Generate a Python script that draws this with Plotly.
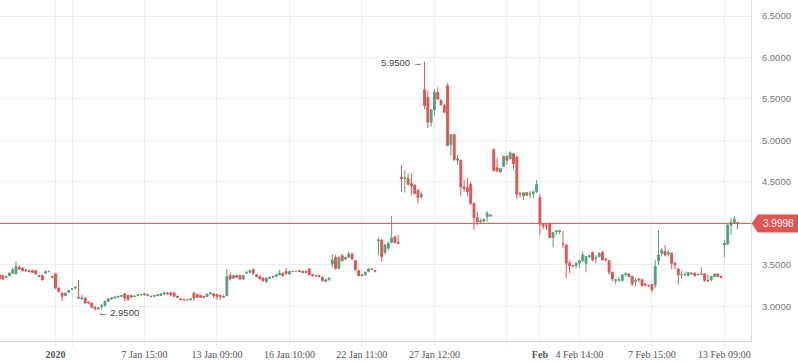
import plotly.graph_objects as go

# ---- data ----
opens = [3.38,3.37,3.35,3.37,3.40,3.39,3.47,3.46,3.44,3.43,3.43,3.43,3.37,3.37,3.40,3.42,3.36,3.39,3.22,3.16,
         3.13,3.17,3.21,3.22,3.11,3.09,3.10,3.05,3.04,2.99,2.97,3.00,3.01,3.06,3.09,3.10,3.11,3.12,3.15,3.13,
         3.11,3.12,3.13,3.14,3.15,3.13,3.12,3.12,3.13,3.13,3.15,3.16,3.16,3.16,3.12,3.09,3.08,3.08,3.08,3.16,
         3.14,3.13,3.12,3.12,3.15,3.15,3.14,3.13,3.11,3.13,3.37,3.34,3.37,3.37,3.33,3.40,3.41,3.44,3.38,3.36,
         3.34,3.30,3.34,3.35,3.36,3.38,3.40,3.42,3.39,3.42,3.42,3.43,3.42,3.42,3.45,3.38,3.37,3.37,3.35,3.30,
         3.32,3.51,3.59,3.46,3.61,3.57,3.59,3.63,3.55,3.43,3.37,3.38,3.42,3.45,3.43,3.79,3.80,3.65,3.70,3.77,
         3.84,3.77,4.56,4.54,4.54,4.48,4.46,4.40,4.32,5.61,5.52,5.22,5.37,5.58,5.48,5.42,5.66,4.95,5.07,4.76,
         4.76,4.44,4.43,4.47,4.24,4.07,4.02,4.03,4.08,4.10,4.89,4.67,4.62,4.69,4.81,4.78,4.84,4.80,4.36,4.33,
         4.37,4.35,4.36,4.38,4.31,3.99,3.98,4.00,3.83,3.90,3.90,3.75,3.74,3.52,3.49,3.49,3.52,3.55,3.52,3.60,
         3.65,3.58,3.60,3.65,3.57,3.55,3.41,3.31,3.32,3.31,3.38,3.39,3.36,3.30,3.33,3.32,3.27,3.25,3.26,3.26,
         3.55,3.64,3.66,3.63,3.64,3.52,3.45,3.38,3.38,3.37,3.40,3.40,3.38,3.39,3.39,3.31,3.32,3.36,3.39,3.36,
         3.74,3.75,3.98,4.01,4.01]
highs = [3.39,3.38,3.37,3.41,3.46,3.54,3.50,3.47,3.45,3.44,3.44,3.44,3.38,3.38,3.43,3.43,3.37,3.40,3.23,3.17,
         3.16,3.20,3.22,3.24,3.32,3.14,3.11,3.06,3.05,3.00,2.99,3.03,3.07,3.10,3.11,3.12,3.13,3.14,3.16,3.14,
         3.14,3.13,3.14,3.15,3.16,3.15,3.13,3.13,3.14,3.16,3.17,3.17,3.18,3.17,3.13,3.10,3.09,3.09,3.10,3.17,
         3.15,3.14,3.13,3.15,3.17,3.16,3.15,3.14,3.13,3.45,3.41,3.38,3.38,3.38,3.38,3.42,3.44,3.46,3.39,3.37,
         3.35,3.35,3.35,3.37,3.39,3.44,3.41,3.46,3.43,3.43,3.43,3.44,3.43,3.43,3.46,3.39,3.38,3.38,3.36,3.33,
         3.35,3.63,3.62,3.61,3.63,3.60,3.66,3.65,3.56,3.44,3.39,3.42,3.46,3.46,3.44,3.83,3.81,3.75,3.78,4.09,
         3.85,3.86,4.70,4.64,4.60,4.60,4.47,4.41,4.38,5.95,5.60,5.38,5.62,5.64,5.50,5.44,5.69,5.07,5.08,4.82,
         4.77,4.53,4.55,4.50,4.25,4.14,4.06,4.06,4.15,4.11,4.90,4.78,4.67,4.81,4.82,4.87,4.85,4.81,4.38,4.37,
         4.38,4.39,4.39,4.52,4.35,4.00,4.00,4.01,3.90,3.91,3.92,3.91,3.75,3.55,3.50,3.53,3.56,3.66,3.60,3.62,
         3.66,3.62,3.65,3.67,3.58,3.56,3.42,3.33,3.35,3.39,3.41,3.40,3.37,3.34,3.34,3.33,3.28,3.26,3.27,3.56,
         3.92,3.70,3.74,3.68,3.65,3.53,3.46,3.43,3.41,3.41,3.41,3.41,3.39,3.47,3.40,3.38,3.37,3.39,3.40,3.37,
         3.80,3.99,4.07,4.09,4.02]
lows = [3.32,3.32,3.34,3.36,3.39,3.39,3.44,3.42,3.42,3.41,3.40,3.38,3.35,3.31,3.39,3.41,3.34,3.21,3.17,3.06,
        3.12,3.16,3.20,3.21,3.10,3.08,3.03,3.03,2.98,2.95,2.96,2.96,3.00,3.05,3.08,3.09,3.10,3.11,3.06,3.07,
        3.10,3.11,3.12,3.13,3.13,3.12,3.11,3.11,3.12,3.13,3.14,3.14,3.12,3.11,3.10,3.08,3.07,3.07,3.07,3.07,
        3.10,3.10,3.10,3.11,3.14,3.10,3.08,3.08,3.10,3.12,3.31,3.33,3.34,3.32,3.32,3.39,3.40,3.38,3.36,3.33,
        3.29,3.28,3.33,3.34,3.35,3.37,3.36,3.38,3.38,3.41,3.41,3.41,3.40,3.41,3.38,3.36,3.36,3.35,3.30,3.29,
        3.31,3.47,3.44,3.44,3.54,3.56,3.58,3.56,3.43,3.36,3.36,3.37,3.41,3.44,3.41,3.62,3.54,3.62,3.68,3.76,
        3.76,3.75,4.38,4.37,4.46,4.34,4.35,4.24,4.30,5.38,5.15,5.17,5.30,5.49,5.42,5.33,4.93,4.82,4.75,4.71,
        4.33,4.38,4.33,4.22,3.92,3.98,3.99,4.01,4.02,4.08,4.62,4.62,4.61,4.68,4.71,4.77,4.65,4.30,4.31,4.28,
        4.33,4.30,4.30,4.37,3.86,3.93,3.92,3.82,3.71,3.86,3.87,3.70,3.34,3.40,3.47,3.46,3.46,3.53,3.41,3.58,
        3.54,3.52,3.59,3.55,3.54,3.38,3.30,3.27,3.29,3.30,3.36,3.35,3.24,3.24,3.29,3.24,3.24,3.23,3.17,3.22,
        3.50,3.60,3.60,3.60,3.45,3.45,3.26,3.33,3.36,3.36,3.38,3.36,3.37,3.38,3.30,3.30,3.30,3.35,3.35,3.34,
        3.59,3.74,3.86,3.99,3.93]
closes = [3.33,3.33,3.36,3.40,3.44,3.48,3.45,3.43,3.43,3.42,3.41,3.39,3.36,3.32,3.42,3.42,3.35,3.22,3.18,3.12,
          3.16,3.19,3.21,3.23,3.10,3.10,3.04,3.04,2.99,2.97,2.98,3.01,3.06,3.09,3.10,3.11,3.12,3.13,3.10,3.08,
          3.13,3.12,3.14,3.14,3.14,3.14,3.12,3.13,3.14,3.15,3.16,3.15,3.14,3.12,3.11,3.08,3.08,3.08,3.09,3.10,
          3.11,3.11,3.11,3.15,3.16,3.13,3.12,3.12,3.12,3.36,3.33,3.37,3.35,3.33,3.37,3.41,3.43,3.40,3.36,3.33,
          3.31,3.34,3.35,3.36,3.38,3.40,3.37,3.40,3.42,3.42,3.42,3.42,3.41,3.41,3.38,3.37,3.37,3.36,3.31,3.32,
          3.34,3.56,3.46,3.59,3.55,3.59,3.63,3.57,3.44,3.37,3.38,3.41,3.45,3.445,3.425,3.80,3.60,3.74,3.76,3.82,
          3.77,3.76,4.54,4.545,4.47,4.45,4.36,4.31,4.35,5.42,5.22,5.37,5.58,5.50,5.43,5.34,4.94,5.07,4.77,4.78,
          4.44,4.42,4.38,4.24,4.07,4.02,4.03,4.05,4.12,4.09,4.64,4.63,4.66,4.81,4.76,4.85,4.72,4.35,4.355,4.37,
          4.34,4.355,4.38,4.47,3.99,3.97,3.97,3.83,3.89,3.91,3.91,3.75,3.52,3.49,3.49,3.52,3.55,3.62,3.60,3.61,
          3.56,3.59,3.64,3.56,3.56,3.41,3.33,3.32,3.32,3.38,3.39,3.36,3.27,3.31,3.32,3.25,3.26,3.25,3.20,3.48,
          3.62,3.68,3.62,3.645,3.52,3.50,3.38,3.385,3.385,3.41,3.395,3.37,3.385,3.385,3.31,3.305,3.36,3.39,3.36,3.35,
          3.76,3.98,4.01,4.05,3.9998]

tick_pos = [17, 22, 44, 66, 88, 110, 132, 154, 164, 176, 198, 220]
tick_text = ["<b>2020</b>", "", "7 Jan 15:00", "13 Jan 09:00", "16 Jan 10:00", "22 Jan 11:00",
             "27 Jan 12:00", "", "<b>Feb</b>", "4 Feb 14:00", "7 Feb 15:00", "13 Feb 09:00"]
y_ticks = [3.0, 3.5, 4.0, 4.5, 5.0, 5.5, 6.0, 6.5]

# ---- styles ----
UP = "#53a27c"
DOWN = "#e05451"
GRID = "#e9ecf0"
AXIS = "#d9dde3"
y_range = [2.582, 6.693]
x_range = [0.15, 228.07]

idx = list(range(len(closes)))
last = closes[-1]

fig = go.Figure()
fig.add_trace(go.Candlestick(
    x=idx, open=opens, high=highs, low=lows, close=closes,
    increasing=dict(line=dict(color=UP, width=1), fillcolor=UP),
    decreasing=dict(line=dict(color=DOWN, width=1), fillcolor=DOWN),
    whiskerwidth=0, showlegend=False, hoverinfo="skip"))

i_max = max(idx, key=lambda i: highs[i])
i_min = min(idx, key=lambda i: lows[i])

fig.add_shape(type="line", xref="paper", x0=0, x1=1, yref="y", y0=last, y1=last,
              line=dict(color="#d9534f", width=1), layer="above")

half = 9 / 341 * (y_range[1] - y_range[0])
fig.add_shape(type="path", xref="paper", yref="y",
              path=f"M 1.0009,{last} L 1.009,{last + half} L 1.0626,{last + half} "
                   f"L 1.0626,{last - half} L 1.009,{last - half} Z",
              fillcolor=DOWN, line=dict(width=0), layer="above")
fig.add_annotation(xref="paper", yref="y", x=1.009, xanchor="left", xshift=3, y=last,
                   text=f"{last:.4f}", showarrow=False,
                   font=dict(family="Liberation Sans", size=10, color="white"))

fig.add_annotation(x=i_max, y=highs[i_max], text=f"{highs[i_max]:.4f} →", showarrow=False,
                   xanchor="right", yanchor="middle", xshift=-1, yshift=-1,
                   font=dict(family="Liberation Sans, DejaVu Sans", size=9.5, color="#444"))
fig.add_annotation(x=i_min, y=lows[i_min], text=f"← {lows[i_min]:.4f}", showarrow=False,
                   xanchor="left", yanchor="middle", xshift=1, yshift=-2,
                   font=dict(family="Liberation Sans, DejaVu Sans", size=9.5, color="#444"))

fig.update_layout(
    width=798, height=363, margin=dict(l=0, r=47, t=0, b=22),
    paper_bgcolor="white", plot_bgcolor="white",
    boxgap=0.25, boxgroupgap=0.25,
    xaxis=dict(range=x_range, rangeslider=dict(visible=False), tickmode="array",
               tickvals=tick_pos, ticktext=tick_text, showgrid=True, gridcolor=GRID, gridwidth=1,
               showline=True, linecolor=AXIS, linewidth=1, ticks="outside", ticklen=4,
               tickcolor=GRID, zeroline=False, automargin=False,
               tickfont=dict(family="Liberation Serif", size=10, color="#555")),
    yaxis=dict(range=y_range, side="right", tickmode="array", tickvals=y_ticks,
               ticktext=["" if abs(v - last) < 0.1 else f"{v:.4f}" for v in y_ticks],
               showgrid=True, gridcolor=GRID,
               showline=True, linecolor=AXIS, linewidth=1, ticks="outside", ticklen=8,
               tickcolor="rgba(0,0,0,0)", zeroline=False, automargin=False,
               tickfont=dict(family="Liberation Sans", size=9.5, color="#777")),
)

fig.write_html("out.html", config={"displayModeBar": False},
               post_script="document.body.style.margin='0px';document.body.style.overflow='hidden';")
